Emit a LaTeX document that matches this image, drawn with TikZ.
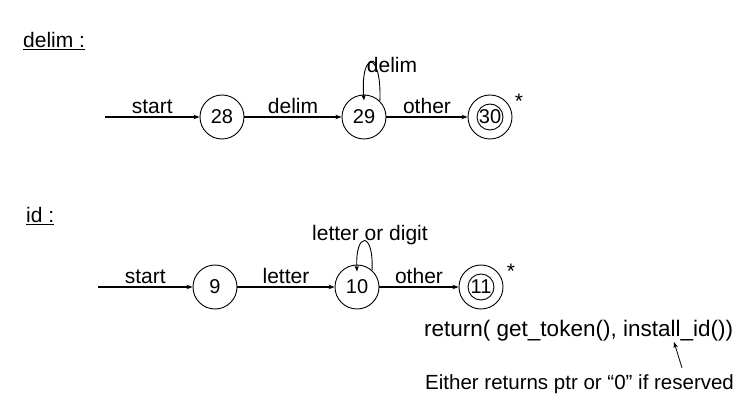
\documentclass[tikz,border=0pt]{standalone}
\usepackage{fontspec}
\setmainfont{Liberation Sans}
\usepackage{tikz}
\usetikzlibrary{arrows.meta}

\begin{document}
\begin{tikzpicture}[x=1pt,y=-1pt,
  >={Stealth[length=6pt,width=4.5pt]},
  state/.style={circle, draw, line width=0.9pt, minimum size=44pt, inner sep=0pt, font=\fontsize{20}{24}\selectfont},
  inner/.style={circle, draw, line width=0.9pt, minimum size=26pt, inner sep=0pt},
  lbl/.style={font=\fontsize{21}{25}\selectfont, inner sep=1pt},
  edge/.style={->, line width=1.5pt},
  loop/.style={->, line width=0.9pt}]

\useasboundingbox (0,0) rectangle (755,403);

% delim
\node[lbl, anchor=base west] (hdelim) at (22,48) {\underline{delim :}};
\coordinate (in1) at (105,117);
\node[state] (s28) at (222,117) {28};
\node[state] (s29) at (364,117) {29};
\node[state] (s30) at (490,117) {30};
\node[inner] (s30in) at (490,117) {};
\node[lbl] (star1) at (519,101) {*};

\draw[edge] (in1) -- (s28) node[lbl, midway, above=2pt] (l1) {start};
\draw[edge] (s28) -- (s29) node[lbl, midway, above=2pt] (l2) {delim};
\draw[edge] (s29) -- (s30) node[lbl, midway, above=2pt] (l3) {other};
\draw[loop] (s29.45) .. controls (382,50) and (360,50) .. ([yshift=-6pt]s29.north);
\node[lbl] (l4) at (392,65) {delim};

% id
\node[lbl, anchor=base west] (hid) at (25,223) {\underline{id :}};
\coordinate (in2) at (98,287);
\node[state] (s9) at (215,287) {9};
\node[state] (s10) at (357,287) {10};
\node[state] (s11) at (481,287) {11};
\node[inner] (s11in) at (481,287) {};
\node[lbl] (star2) at (511,271) {*};

\draw[edge] (in2) -- (s9) node[lbl, midway, above=2pt] (l5) {start};
\draw[edge] (s9) -- (s10) node[lbl, midway, above=2pt] (l6) {letter};
\draw[edge] (s10) -- (s11) node[lbl, midway, above=2pt] (l7) {other};
\draw[loop] (s10.48) .. controls (374,231) and (355,231) .. ([yshift=-7pt]s10.north);
\node[lbl] (l8) at (370,235) {letter or digit};

% return
\node[anchor=west, inner sep=0pt, font=\fontsize{22.5}{27}\selectfont] (ret) at (424,331) {return( get\_token(), install\_id())};
\node[anchor=west, inner sep=0pt, font=\fontsize{20.5}{25}\selectfont] (note) at (425,384) {Either returns ptr or “0” if reserved};
\coordinate (tail) at (682,368);
\coordinate (tip) at (674,342);
\draw[->, line width=0.8pt] (tail) -- (tip);

\end{tikzpicture}
\end{document}
